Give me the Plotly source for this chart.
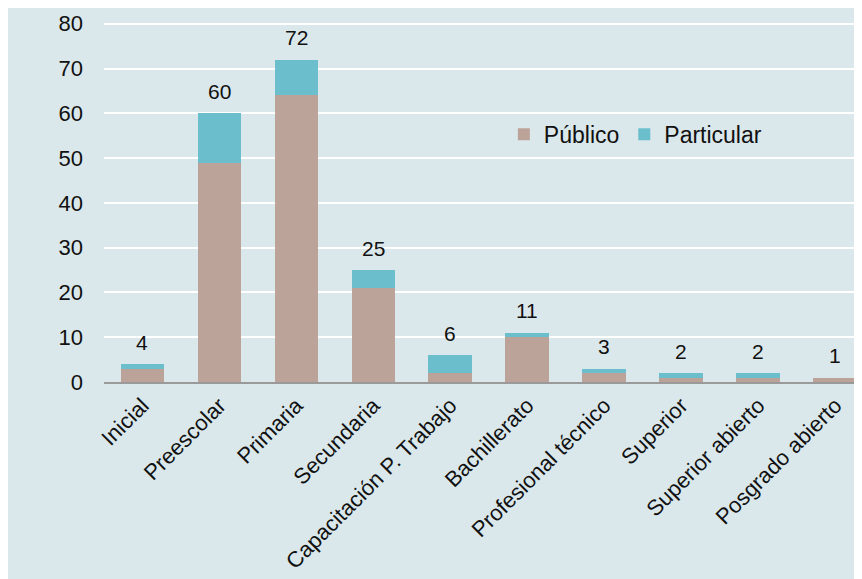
import plotly.graph_objects as go

categorias = ["Inicial", "Preescolar", "Primaria", "Secundaria", "Capacitación P. Trabajo",
              "Bachillerato", "Profesional técnico", "Superior", "Superior abierto", "Posgrado abierto"]
publico = [3, 49, 64, 21, 2, 10, 2, 1, 1, 1]
particular = [1, 11, 8, 4, 4, 1, 1, 1, 1, 0]
totales = [4, 60, 72, 25, 6, 11, 3, 2, 2, 1]

BG = "#DAE8EB"
fig = go.Figure()
fig.add_trace(go.Bar(x=categorias, y=publico, name="Público", marker_color="#BCA39A",
                     marker_line_width=0))
fig.add_trace(go.Bar(x=categorias, y=particular, name="Particular", marker_color="#6BBFCC",
                     marker_line_width=0))

for c, t in zip(categorias, totales):
    fig.add_annotation(x=c, y=t, text=str(t), showarrow=False, yanchor="middle",
                       yshift=22, font=dict(size=21, color="#111111"))

fig.update_layout(
    barmode="stack", bargap=0.43,
    width=862, height=579,
    margin=dict(l=96, r=0, t=14, b=205, autoexpand=False),
    paper_bgcolor=BG, plot_bgcolor=BG,
    font=dict(family="Liberation Sans, Arial", size=22, color="#111111"),
    legend=dict(orientation="h", x=0.522, y=0.688, xanchor="left", yanchor="middle",
                bgcolor="rgba(0,0,0,0)", font=dict(size=23), itemwidth=30,
                traceorder="normal"),
    showlegend=True,
)
fig.update_xaxes(range=[-0.5, 9.45], tickangle=-45, tickfont=dict(size=22),
                 showline=True, linecolor="#9A9A9A", linewidth=2, showgrid=False,
                 ticks="", automargin=False)
fig.update_yaxes(range=[0, 80.4], tickvals=[0, 10, 20, 30, 40, 50, 60, 70, 80],
                 gridcolor="#FFFFFF", gridwidth=2, zeroline=False, automargin=False,
                 ticklabelstandoff=20, tickfont=dict(size=22), showline=False)

fig.write_html("out.html")
